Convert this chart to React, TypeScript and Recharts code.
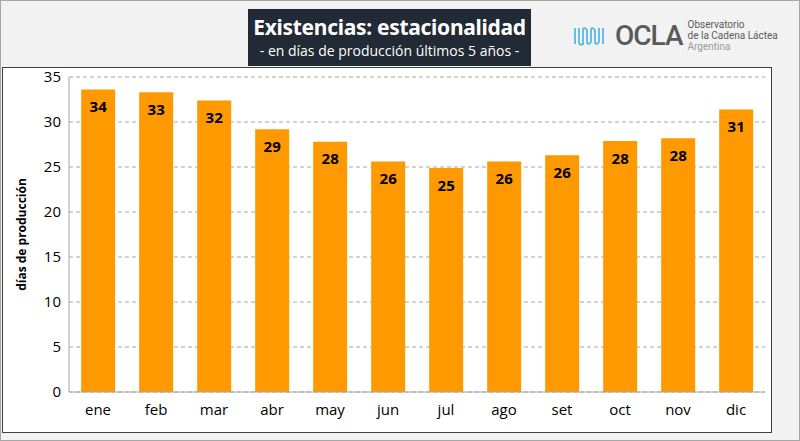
import { BarChart, Bar, XAxis, YAxis, CartesianGrid, LabelList } from "recharts";

const months = ["ene", "feb", "mar", "abr", "may", "jun", "jul", "ago", "set", "oct", "nov", "dic"];
const dias = [33.6, 33.3, 32.4, 29.2, 27.8, 25.6, 24.9, 25.6, 26.3, 27.9, 28.2, 31.4];
const yTicks = [0, 5, 10, 15, 20, 25, 30, 35];

const data = months.map((m, i) => ({ m, v: dias[i] }));

export default function App() {
  return (
    <div style={{ position: "absolute", left: 0, top: 0, width: 800, height: 441, background: "#f2f2f2", fontFamily: "'Open Sans', Calibri, sans-serif", boxSizing: "border-box", border: "1px solid #a6a6a6", overflow: "hidden" }}>
      <div style={{ position: "absolute", left: 247, top: 8, width: 283, height: 57, background: "#222a35", color: "#fff", textAlign: "center", whiteSpace: "nowrap" }}>
        <div style={{ fontSize: 21, fontWeight: 700, lineHeight: "30px", marginTop: 3, fontFamily: "'Noto Sans', sans-serif", letterSpacing: -0.3 }}>Existencias: estacionalidad</div>
        <div style={{ fontSize: 14, lineHeight: "18px" }}>- en días de producción  últimos 5 años -</div>
      </div>
      <div style={{ position: "absolute", left: 572, top: 18, display: "flex", alignItems: "center", fontFamily: "Roboto, sans-serif" }}>
        <svg width={40} height={24}>
          <path d="M2 4 V20 M6 4 V18 Q6 22 10 20 V6 Q10 2 14 6 V18 Q14 22 18 18 V6 Q18 2 22 6 V18 Q22 22 26 18 V4 M30 4 V20" stroke="#3ab0e0" strokeWidth={1.5} fill="none" />
        </svg>
        <div style={{ fontSize: 28, fontWeight: 500, color: "#5a5a5a", marginLeft: 2, letterSpacing: -1 }}>OCLA</div>
        <div style={{ fontSize: 10, color: "#5a5a5a", marginLeft: 5, lineHeight: "11px" }}>
          Observatorio<br />de la Cadena Láctea<br /><span style={{ color: "#999" }}>Argentina</span>
        </div>
      </div>
      <div style={{ position: "absolute", left: 1, top: 66, width: 770, height: 366, background: "#fff", border: "1px solid #404040", boxSizing: "border-box" }}>
        <BarChart width={768} height={364} data={data} margin={{ top: 9, right: 6, bottom: 10, left: 10 }} barCategoryGap="21%">
          <CartesianGrid vertical={false} stroke="#a6a6a6" strokeDasharray="4 3" />
          <XAxis dataKey="m" tickLine={false} axisLine={{ stroke: "#a6a6a6" }} tick={{ fill: "#000", fontSize: 15 }} dy={4} />
          <YAxis domain={[0, 35]} ticks={yTicks} tickLine={false} axisLine={{ stroke: "#a6a6a6" }} tick={{ fill: "#000", fontSize: 15 }} width={56}
            label={{ value: "días de producción", angle: -90, position: "insideLeft", dx: 4, style: { fontSize: 12, fontWeight: 700, fill: "#000", textAnchor: "middle" } }} />
          <Bar dataKey="v" fill="#ff9900" isAnimationActive={false}>
            <LabelList dataKey="v" position="insideTop" offset={12} formatter={(v: unknown) => Math.round(Number(v))} style={{ fontSize: 15, fontWeight: 700, fill: "#000" }} />
          </Bar>
        </BarChart>
      </div>
    </div>
  );
}
